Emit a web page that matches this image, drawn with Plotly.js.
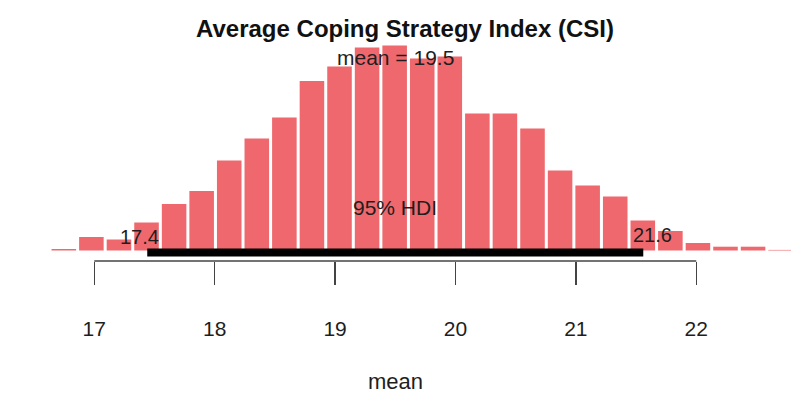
<!DOCTYPE html>
<html>
<head>
<meta charset="utf-8">
<script src="https://cdn.plot.ly/plotly-3.0.1.min.js"></script>
<style>
  html, body { margin: 0; padding: 0; background: #ffffff; }
  #chart { width: 791px; height: 402px; }
</style>
</head>
<body>
<div id="chart"></div>
<script>
// Histogram bin centres (posterior samples of the mean)
const binCenters = [16.747, 16.976, 17.205, 17.434, 17.663, 17.892, 18.121, 18.350, 18.579,
                    18.808, 19.037, 19.266, 19.495, 19.724, 19.953, 20.182, 20.411, 20.640,
                    20.869, 21.098, 21.327, 21.556, 21.785, 22.014, 22.243, 22.472, 22.701];
// Bin heights (relative frequency)
const binHeights = [1.5, 13.5, 11, 28, 46.5, 59.5, 90, 112, 133,
                    169.5, 184, 203, 205, 192, 194, 137, 137, 122,
                    80, 65, 54, 30, 19.5, 7.5, 3.8, 3.8, 0.6];
const binWidth = 0.2291;

const meanValue = 19.5;
const hdiLow = 17.44;
const hdiHigh = 21.56;
const hdiLowLabel = "17.4";
const hdiHighLabel = "21.6";
const meanLabel = "mean = 19.5";
const hdiLabel = "95% HDI";

const tickValues = [17, 18, 19, 20, 21, 22];
const tickLabels = ["17", "18", "19", "20", "21", "22"];

const titleText = "Average Coping Strategy Index (CSI)";
const xTitle = "mean";

const barColor = "#EE686D";
const textColor = "#1e1e1e";
const fontFam = "Liberation Sans, Arial, Helvetica, sans-serif";

const traces = [
  {
    type: "bar",
    x: binCenters,
    y: binHeights,
    width: binWidth * 0.89,
    marker: { color: barColor, line: { width: 0 } },
    hoverinfo: "skip"
  },
  {
    type: "scatter",
    mode: "lines",
    x: [hdiLow, hdiHigh],
    y: [-2, -2],
    line: { color: "#000000", width: 8 },
    hoverinfo: "skip"
  }
];

const layout = {
  width: 791,
  height: 402,
  margin: { l: 0, r: 0, t: 40, b: 141 },
  paper_bgcolor: "#ffffff",
  plot_bgcolor: "#ffffff",
  showlegend: false,
  font: { family: fontFam, color: textColor },
  title: {
    text: titleText,
    font: { family: fontFam, size: 24, weight: "bold", color: "#111111" },
    xref: "container", x: 0.512, xanchor: "center",
    yref: "container", y: 0.93, yanchor: "middle"
  },
  xaxis: {
    range: [16.217, 22.787],
    showgrid: false,
    zeroline: false,
    showline: false,
    tickmode: "array",
    tickvals: tickValues,
    ticktext: tickLabels,
    ticks: "outside",
    ticklen: 23,
    tickwidth: 1.5,
    tickcolor: "#444444",
    ticklabelstandoff: 26,
    tickfont: { family: fontFam, size: 21, color: textColor },
    title: { text: xTitle, font: { family: fontFam, size: 22, color: textColor }, standoff: 34 }
  },
  yaxis: {
    range: [-10.5, 210.5],
    visible: false,
    showgrid: false,
    zeroline: false
  },
  shapes: [
    {
      type: "line", xref: "x", yref: "paper",
      x0: tickValues[0], x1: tickValues[tickValues.length - 1], y0: 0, y1: 0,
      line: { color: "#444444", width: 1.5 }
    }
  ],
  annotations: [
    { x: meanValue, y: 193, xref: "x", yref: "y", text: meanLabel, showarrow: false,
      font: { family: fontFam, size: 21, color: textColor } },
    { x: (hdiLow + hdiHigh) / 2, y: 43, xref: "x", yref: "y", text: hdiLabel, showarrow: false,
      font: { family: fontFam, size: 21, color: textColor } },
    { x: hdiLow, y: 14, xref: "x", yref: "y", text: hdiLowLabel, showarrow: false, xshift: -8,
      font: { family: fontFam, size: 20, color: textColor } },
    { x: hdiHigh, y: 15.5, xref: "x", yref: "y", text: hdiHighLabel, showarrow: false, xshift: 9,
      font: { family: fontFam, size: 20, color: textColor } }
  ]
};

Plotly.newPlot("chart", traces, layout, { displayModeBar: false, staticPlot: true });
</script>
</body>
</html>
